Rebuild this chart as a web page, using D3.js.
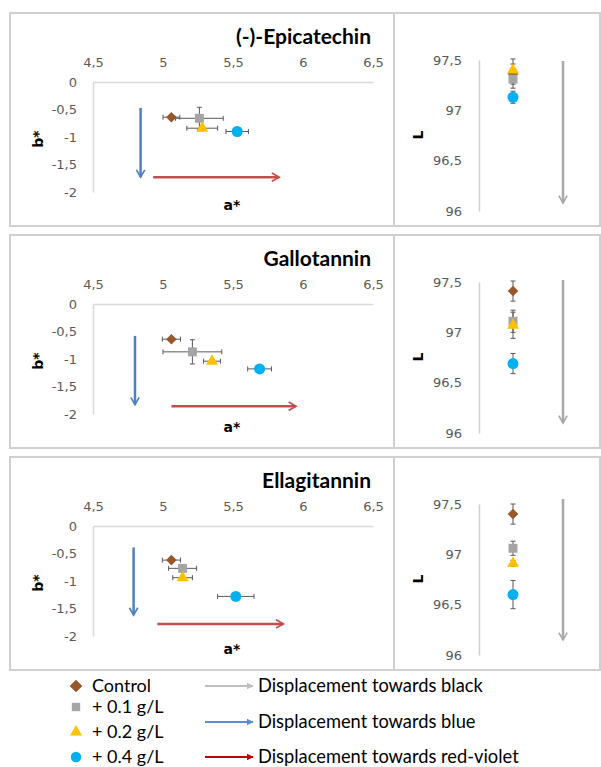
<!DOCTYPE html>
<html>
<head>
<meta charset="utf-8">
<script src="https://cdn.jsdelivr.net/npm/d3@7"></script>
<style>
  html, body { margin: 0; padding: 0; background: #fff; }
  svg { display: block; }
  .tick text { font-family: "DejaVu Sans", sans-serif; font-size: 13px; fill: #595959; }
</style>
</head>
<body>
<svg id="chart" width="601" height="767"></svg>
<script>
// ---- data ----
const treatments = ["Control", "+ 0.1 g/L", "+ 0.2 g/L", "+ 0.4 g/L"];
const compounds = ["(-)-Epicatechin", "Gallotannin", "Ellagitannin"];

// CIELab a* (mean, sd) per compound, one value per treatment
const aMean = [
  [5.06, 5.26, 5.28, 5.53],
  [5.06, 5.21, 5.35, 5.69],
  [5.06, 5.14, 5.14, 5.52]
];
const aSd = [
  [0.06, 0.17, 0.11, 0.08],
  [0.065, 0.21, 0.06, 0.085],
  [0.065, 0.10, 0.07, 0.13]
];
// CIELab b*
const bMean = [
  [-0.64, -0.66, -0.84, -0.90],
  [-0.64, -0.87, -1.04, -1.18],
  [-0.62, -0.77, -0.94, -1.28]
];
const bSd = [
  [0.03, 0.20, 0.03, 0.03],
  [0.03, 0.22, 0.03, 0.03],
  [0.03, 0.04, 0.03, 0.03]
];
// CIELab L
const lMean = [
  [97.36, 97.31, 97.40, 97.13],
  [97.41, 97.11, 97.07, 96.69],
  [97.40, 97.06, 96.91, 96.60]
];
const lSd = [
  [0.10, 0.09, 0.11, 0.06],
  [0.10, 0.11, 0.13, 0.10],
  [0.10, 0.07, 0.03, 0.14]
];

// axis ticks
const aTicks = [4.5, 5, 5.5, 6, 6.5];
const bTicks = [0, -0.5, -1, -1.5, -2];
const lTicks = [97.5, 97, 96.5, 96];

// direction arrows (in data units)
const blueArrow = [  // [a, b start, b end]
  [4.84, -0.47, -1.73],
  [4.80, -0.58, -1.83],
  [4.79, -0.39, -1.62]
];
const redArrow = [   // [a start, a end, b]
  [4.93, 5.83, -1.73],
  [5.06, 5.95, -1.86],
  [4.96, 5.86, -1.78]
];
const grayArrow = [  // [L start, L end]
  [97.49, 96.08],
  [97.52, 96.10],
  [97.55, 96.15]
];

const legendArrows = ["Displacement towards black", "Displacement towards blue", "Displacement towards red-violet"];

// ---- styling ----
const markerFill = ["#97572b", "#a5a5a5", "#ffc000", "#00b0f0"];
const markerShape = [d3.symbolSquare, d3.symbolSquare, d3.symbolTriangle, d3.symbolCircle];
const markerRot = [45, 0, 0, 0];
const markerSize = [56, 80, 62, 95];
const arrowCol = { gray: "#a9a9a9", blue: "#4f81bd", red: "#c0504d" };
const legendArrowCol = ["#bfbfbf", "#5b8ed6", "#c00000"];

const comma = d => String(d).replace(".", ",");

const svg = d3.select("#chart");
const defs = svg.append("defs");

function chevron(id, color) {
  defs.append("marker")
    .attr("id", id).attr("viewBox", "0 0 10 10")
    .attr("refX", 8).attr("refY", 5)
    .attr("markerWidth", 4.2).attr("markerHeight", 4.2)
    .attr("markerUnits", "strokeWidth")
    .attr("orient", "auto")
    .append("path").attr("d", "M1,1 L8,5 L1,9")
    .attr("fill", "none").attr("stroke", color).attr("stroke-width", 1.6)
    .attr("stroke-linejoin", "miter");
}
function headFilled(id, color) {
  defs.append("marker")
    .attr("id", id).attr("viewBox", "0 0 10 10")
    .attr("refX", 9).attr("refY", 5)
    .attr("markerWidth", 3.6).attr("markerHeight", 3.6)
    .attr("markerUnits", "strokeWidth")
    .attr("orient", "auto")
    .append("path").attr("d", "M0,0 L10,5 L0,10 Z").attr("fill", color);
}
chevron("hd-gray", arrowCol.gray);
chevron("hd-blue", arrowCol.blue);
chevron("hd-red", arrowCol.red);
legendArrowCol.forEach((c, i) => headFilled("lg" + i, c));

const rowTop = [13, 235, 457];
const rowH = 213;
const boxL = 10, boxMid = 394, boxR = 600;

function errBars(g, cx, cy, x0, x1, y0, y1, cap) {
  const c = "#595959";
  if (x0 !== null) {
    g.append("line").attr("x1", x0).attr("x2", x1).attr("y1", cy).attr("y2", cy).attr("stroke", c);
    [x0, x1].forEach(x => g.append("line").attr("x1", x).attr("x2", x)
      .attr("y1", cy - cap).attr("y2", cy + cap).attr("stroke", c));
  }
  g.append("line").attr("x1", cx).attr("x2", cx).attr("y1", y0).attr("y2", y1).attr("stroke", c);
  [y0, y1].forEach(y => g.append("line").attr("y1", y).attr("y2", y)
    .attr("x1", cx - cap).attr("x2", cx + cap).attr("stroke", c));
}

function marker(g, ti, cx, cy, size) {
  g.append("path")
    .attr("d", d3.symbol(markerShape[ti], size)())
    .attr("transform", `translate(${cx},${cy}) rotate(${markerRot[ti]})`)
    .attr("fill", markerFill[ti]);
}

compounds.forEach((name, ci) => {
  const top = rowTop[ci];
  const row = svg.append("g");

  // frames
  row.append("rect").attr("x", boxL).attr("y", top).attr("width", boxMid - boxL).attr("height", rowH)
    .attr("fill", "none").attr("stroke", "#d0d0d0").attr("stroke-width", 2);
  row.append("rect").attr("x", boxMid).attr("y", top).attr("width", boxR - boxMid).attr("height", rowH)
    .attr("fill", "none").attr("stroke", "#d0d0d0").attr("stroke-width", 2);

  // ---- a*/b* plane ----
  const x = d3.scaleLinear().domain([4.5, 6.5]).range([93, 373]);
  const y = d3.scaleLinear().domain([0, -2]).range([top + 69, top + 179]);

  const ax = row.append("g").attr("transform", `translate(0,${y(0)})`)
    .call(d3.axisTop(x).tickValues(aTicks).tickFormat(comma).tickSize(0).tickSizeOuter(0).tickPadding(15));
  const ay = row.append("g").attr("transform", `translate(${x(4.5)},0)`)
    .call(d3.axisLeft(y).tickValues(bTicks).tickFormat(comma).tickSize(0).tickSizeOuter(0).tickPadding(16));
  [ax, ay].forEach(a => a.select(".domain").attr("stroke", "#d9d9d9").attr("stroke-width", 1.5));

  row.append("text").attr("x", 371).attr("y", top + 31).attr("text-anchor", "end")
    .attr("font-family", "Lato, sans-serif").attr("font-weight", "bold").attr("font-size", 21)
    .attr("fill", "#000").text(name);

  row.append("text").attr("x", 232).attr("y", top + 197).attr("text-anchor", "middle")
    .attr("font-family", "'DejaVu Sans', sans-serif").attr("font-weight", "bold").attr("font-size", 14)
    .text("a*");
  row.append("text").attr("transform", `translate(43,${top + 126}) rotate(-90)`).attr("text-anchor", "middle")
    .attr("font-family", "'DejaVu Sans', sans-serif").attr("font-weight", "bold").attr("font-size", 14)
    .text("b*");

  // direction arrows
  const ba = blueArrow[ci], ra = redArrow[ci];
  row.append("line").attr("x1", x(ba[0])).attr("x2", x(ba[0])).attr("y1", y(ba[1])).attr("y2", y(ba[2]))
    .attr("stroke", arrowCol.blue).attr("stroke-width", 2.5).attr("marker-end", "url(#hd-blue)");
  row.append("line").attr("x1", x(ra[0])).attr("x2", x(ra[1])).attr("y1", y(ra[2])).attr("y2", y(ra[2]))
    .attr("stroke", arrowCol.red).attr("stroke-width", 2.5).attr("marker-end", "url(#hd-red)");

  treatments.forEach((t, ti) => {
    const cx = x(aMean[ci][ti]), cy = y(bMean[ci][ti]);
    errBars(row.append("g"), cx, cy,
      x(aMean[ci][ti] - aSd[ci][ti]), x(aMean[ci][ti] + aSd[ci][ti]),
      y(bMean[ci][ti] + bSd[ci][ti]), y(bMean[ci][ti] - bSd[ci][ti]), 2.5);
  });
  treatments.forEach((t, ti) => {
    marker(row, ti, x(aMean[ci][ti]), y(bMean[ci][ti]), markerSize[ti]);
  });

  // ---- L ----
  const yl = d3.scaleLinear().domain([97.5, 96]).range([top + 47, top + 198]);
  const al = row.append("g").attr("transform", "translate(479,0)")
    .call(d3.axisLeft(yl).tickValues(lTicks).tickFormat(comma).tickSize(0).tickSizeOuter(0).tickPadding(17));
  al.select(".domain").attr("stroke", "#d0d0d0").attr("stroke-width", 1.5);

  row.append("text").attr("transform", `translate(423,${top + 122}) rotate(-90)`).attr("text-anchor", "middle")
    .attr("font-family", "'DejaVu Sans', sans-serif").attr("font-weight", "bold").attr("font-size", 14)
    .text("L");

  const ga = grayArrow[ci];
  row.append("line").attr("x1", 563).attr("x2", 563).attr("y1", yl(ga[0])).attr("y2", yl(ga[1]))
    .attr("stroke", arrowCol.gray).attr("stroke-width", 2.5).attr("marker-end", "url(#hd-gray)");

  const lx = 513;
  treatments.forEach((t, ti) => {
    errBars(row.append("g"), lx, yl(lMean[ci][ti]), null, null,
      yl(lMean[ci][ti] + lSd[ci][ti]), yl(lMean[ci][ti] - lSd[ci][ti]), 2.5);
  });
  treatments.forEach((t, ti) => {
    marker(row, ti, lx, yl(lMean[ci][ti]), markerSize[ti]);
  });
});

// ---- legend ----
const leg = svg.append("g");
const legY = [686, 707, 732, 757];
treatments.forEach((t, ti) => {
  marker(leg, ti, 76, legY[ti], [80, 70, 62, 85][ti]);
  leg.append("text").attr("x", 92).attr("y", legY[ti]).attr("dy", "0.35em")
    .attr("font-family", "Lato, sans-serif").attr("font-size", 18).attr("fill", "#000").text(t);
});
const legArrowY = [686, 722, 757];
legendArrows.forEach((t, i) => {
  leg.append("line").attr("x1", 205).attr("x2", 253).attr("y1", legArrowY[i]).attr("y2", legArrowY[i])
    .attr("stroke", legendArrowCol[i]).attr("stroke-width", 2).attr("marker-end", `url(#lg${i})`);
  leg.append("text").attr("x", 258).attr("y", legArrowY[i]).attr("dy", "0.35em")
    .attr("font-family", "Lato, sans-serif").attr("font-size", 18.3).attr("fill", "#000").text(t);
});
</script>
</body>
</html>
